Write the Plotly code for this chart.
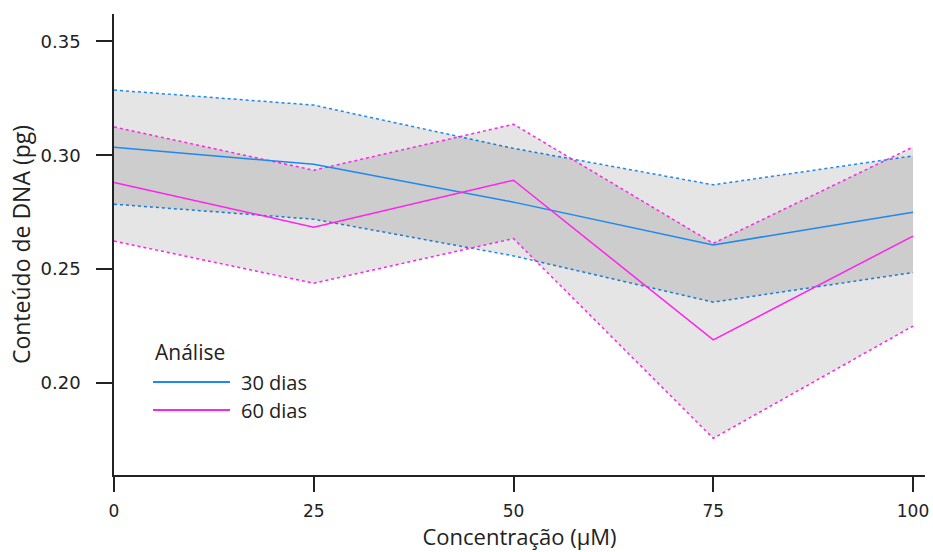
import plotly.graph_objects as go

conc = [0, 25, 50, 75, 100]
mean_30 = [0.3035, 0.2960, 0.2794, 0.2606, 0.2750]
upper_30 = [0.3286, 0.3220, 0.3030, 0.2870, 0.2997]
lower_30 = [0.2785, 0.2719, 0.2558, 0.2355, 0.2485]
mean_60 = [0.2880, 0.2684, 0.2890, 0.2189, 0.2645]
upper_60 = [0.3124, 0.2934, 0.3136, 0.2613, 0.3036]
lower_60 = [0.2623, 0.2438, 0.2634, 0.1757, 0.2250]
y_ticks = [0.20, 0.25, 0.30, 0.35]
x_ticks = [0, 25, 50, 75, 100]
series_names = ["30 dias", "60 dias"]
legend_title = "Análise"

BLUE = "#1E88F0"
MAG = "#FF22EE"
FILL = "rgba(0,0,0,0.1)"
colors = [BLUE, MAG]

fig = go.Figure()
for m, up, lo, col in [(mean_30, upper_30, lower_30, BLUE),
                       (mean_60, upper_60, lower_60, MAG)]:
    fig.add_trace(go.Scatter(x=conc, y=lo, mode="lines", line=dict(color=col, width=1.5, dash="dot"),
                             showlegend=False, hoverinfo="skip"))
    fig.add_trace(go.Scatter(x=conc, y=up, mode="lines", line=dict(color=col, width=1.5, dash="dot"),
                             fill="tonexty", fillcolor=FILL, showlegend=False, hoverinfo="skip"))
for name, m, col in [(series_names[0], mean_30, BLUE), (series_names[1], mean_60, MAG)]:
    fig.add_trace(go.Scatter(x=conc, y=m, mode="lines", name=name, showlegend=False,
                             line=dict(color=col, width=1.5)))

font_txt = "Open Sans, DejaVu Sans, sans-serif"
TXT = "#222222"

# manual legend (paper coordinates; plot area is 811 x 461 px)
def px(x):
    return (x - 114) / 811
def py(y):
    return (475 - y) / 461

fig.add_annotation(x=px(153), y=py(352), xref="paper", yref="paper", text=legend_title,
                   showarrow=False, xanchor="left", yanchor="middle",
                   font=dict(family=font_txt, size=21, color=TXT))
for i, (name, col) in enumerate(zip(series_names, colors)):
    yy = 382 + i * 28
    fig.add_shape(type="line", xref="paper", yref="paper", x0=px(153), x1=px(230),
                  y0=py(yy), y1=py(yy), line=dict(color=col, width=2))
    fig.add_annotation(x=px(239), y=py(yy), xref="paper", yref="paper", text=name,
                       showarrow=False, xanchor="left", yanchor="middle",
                       font=dict(family=font_txt, size=20, color=TXT))

fig.update_layout(
    width=933, height=552,
    margin=dict(l=114, r=8, t=14, b=77, autoexpand=False),
    paper_bgcolor="white", plot_bgcolor="white",
    font=dict(family=font_txt, color=TXT, size=16),
    showlegend=False,
    xaxis=dict(range=[0, 101.5], tickvals=x_ticks, ticktext=[str(v) for v in x_ticks],
               automargin=False,
               showgrid=False, zeroline=False, showline=True, linecolor=TXT, linewidth=1.5,
               ticks="outside", ticklen=15, tickwidth=1.5, tickcolor=TXT,
               ticklabelstandoff=5,
               tickfont=dict(family="DejaVu Sans, sans-serif", size=17),
               title=dict(text="Concentração (µM)", font=dict(size=22), standoff=4)),
    yaxis=dict(range=[0.1596, 0.362], tickvals=y_ticks, ticktext=[f"{v:.2f}" for v in y_ticks],
               automargin=False,
               showgrid=False, zeroline=False, showline=True, linecolor=TXT, linewidth=1.5,
               ticks="outside", ticklen=16, tickwidth=1.5, tickcolor=TXT,
               ticklabelstandoff=12,
               tickfont=dict(family="DejaVu Sans, sans-serif", size=18),
               title=dict(text="Conteúdo de DNA (pg)", font=dict(size=23), standoff=4)),
)

fig.write_html("out.html")
